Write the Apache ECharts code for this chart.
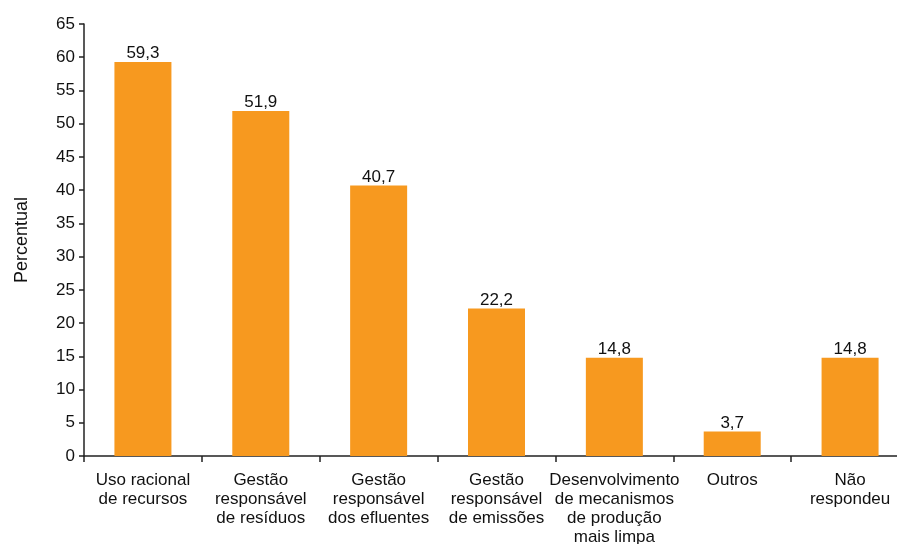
<!DOCTYPE html>
<html><head><meta charset="utf-8">
<script src="https://cdn.jsdelivr.net/npm/echarts@6/dist/echarts.min.js"></script>
<style>html,body{margin:0;padding:0;background:#fff}#c{width:897px;height:544px}</style>
</head><body><div id="c"></div>
<script>
var categories = ["Uso racional\nde recursos","Gestão\nresponsável\nde resíduos","Gestão\nresponsável\ndos efluentes","Gestão\nresponsável\nde emissões","Desenvolvimento\nde mecanismos\nde produção\nmais limpa","Outros","Não\nrespondeu"];
var values = [59.3, 51.9, 40.7, 22.2, 14.8, 3.7, 14.8];
var yTicks = {min: 0, max: 65, interval: 5};
var chart = echarts.init(document.getElementById('c'));
var font = '"Liberation Sans", Arial, sans-serif';
chart.setOption({
  animation: false,
  grid: {left: 84, top: 24, right: -12, bottom: 88, containLabel: false, outerBoundsMode: 'none'},
  xAxis: {
    type: 'category', data: categories,
    axisLine: {lineStyle: {color: '#222', width: 1.5}},
    axisTick: {show: true, alignWithLabel: false, length: 6, lineStyle: {color: '#222', width: 1.5}},
    axisLabel: {interval: 0, color: '#111', fontFamily: font, fontSize: 17, lineHeight: 19, margin: 15}
  },
  yAxis: {
    type: 'value', min: yTicks.min, max: yTicks.max, interval: yTicks.interval,
    name: 'Percentual', nameLocation: 'middle', nameGap: 53, nameRotate: 90,
    nameTextStyle: {color: '#111', fontFamily: font, fontSize: 18},
    splitLine: {show: false},
    axisLine: {show: true, lineStyle: {color: '#222', width: 1.5}},
    axisTick: {show: true, length: 5, lineStyle: {color: '#222', width: 1.5}},
    axisLabel: {color: '#111', fontFamily: font, fontSize: 17, margin: 9}
  },
  series: [{
    type: 'bar', data: values, barWidth: 57,
    itemStyle: {color: '#F7991F'},
    label: {show: true, position: 'top', distance: 0, color: '#111', fontFamily: font, fontSize: 17,
      formatter: function(p){ return String(p.value).replace('.', ','); }}
  }]
});
</script></body></html>
